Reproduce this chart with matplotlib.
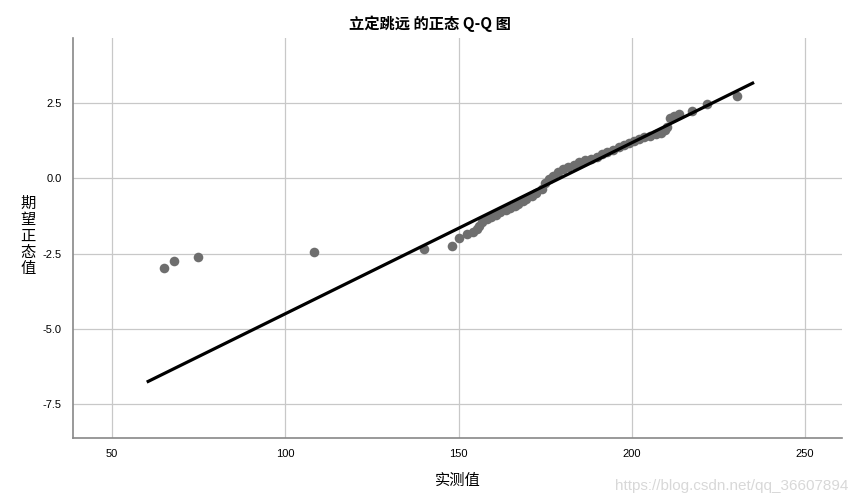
import matplotlib
matplotlib.use("Agg")
import matplotlib.pyplot as plt

plt.rcParams['font.family'] = ['Noto Sans CJK SC', 'DejaVu Sans']

observed = [65.1, 68.0, 74.9, 108.2, 140.1, 148.2, 150.2, 152.3, 154.3, 155.4,
            156.0, 156.9, 158.3, 159.5, 160.7, 162.1, 163.6, 165.0, 166.2, 167.3,
            168.5, 169.6, 171.1, 172.5, 174.0, 175.1, 176.0, 177.2, 178.6, 180.1,
            181.5, 183.3, 184.7, 186.4, 188.2, 189.9, 191.4, 192.8, 194.6, 196.3,
            197.7, 199.2, 200.6, 202.1, 203.5, 205.3, 207.0, 208.5, 209.6, 210.2,
            211.1, 212.2, 213.7, 217.4, 221.8, 230.5]
expected = [-2.99, -2.76, -2.63, -2.46, -2.36, -2.26, -1.99, -1.86, -1.80, -1.70,
            -1.60, -1.46, -1.36, -1.30, -1.23, -1.13, -1.06, -1.00, -0.93, -0.86,
            -0.76, -0.70, -0.60, -0.50, -0.37, -0.17, -0.03, 0.07, 0.20, 0.30,
            0.37, 0.43, 0.53, 0.60, 0.63, 0.70, 0.80, 0.86, 0.93, 1.03,
            1.10, 1.16, 1.23, 1.30, 1.36, 1.40, 1.46, 1.50, 1.60, 1.70,
            1.99, 2.06, 2.13, 2.23, 2.46, 2.73]

line_x = [60.4, 234.9]
line_y = [-6.75, 3.16]

x_ticks = [50, 100, 150, 200, 250]
y_ticks = [2.5, 0.0, -2.5, -5.0, -7.5]

title = "立定跳远 的正态 Q-Q 图"
xlabel = "实测值"
ylabel = "期\n望\n正\n态\n值"

fig = plt.figure(figsize=(8.54, 5.04), dpi=100)
ax = fig.add_axes([73/854, 66/504, 769/854, 400/504])

ax.set_xlim(38.7, 260.7)
ax.set_ylim(-8.63, 4.66)
ax.set_xticks(x_ticks)
ax.set_yticks(y_ticks)
ax.set_xticklabels([str(t) for t in x_ticks], family='Liberation Sans')
ax.set_yticklabels([f"{t:.1f}" for t in y_ticks], family='Liberation Sans')
ax.grid(True, color='#c8c8c8', linewidth=0.9)
ax.set_axisbelow(True)
ax.tick_params(length=0, labelsize=8, pad=8, colors='black')

for s in ['top', 'right']:
    ax.spines[s].set_visible(False)
for s in ['left', 'bottom']:
    ax.spines[s].set_color('#888888')
    ax.spines[s].set_linewidth(1.2)

ax.scatter(observed, expected, s=48, color='#6e6e6e', zorder=3, linewidths=0)
ax.plot(line_x, line_y, color='black', linewidth=2.3, zorder=4)

fig.text(430/854, 1 - 24/504, title, ha='center', va='center', fontsize=11, fontweight='bold')
fig.text(458/854, 1 - 480/504, xlabel, ha='center', va='center', fontsize=11)
fig.text(28/854, 1 - 236/504, ylabel, ha='center', va='center', fontsize=11, linespacing=0.95)
fig.text(848/854, 1 - 486/504, "https://blog.csdn.net/qq_36607894", ha='right', va='center',
         fontsize=11, color='#d8d8d8', family='Liberation Sans')

fig.savefig("out.png", dpi=100)
